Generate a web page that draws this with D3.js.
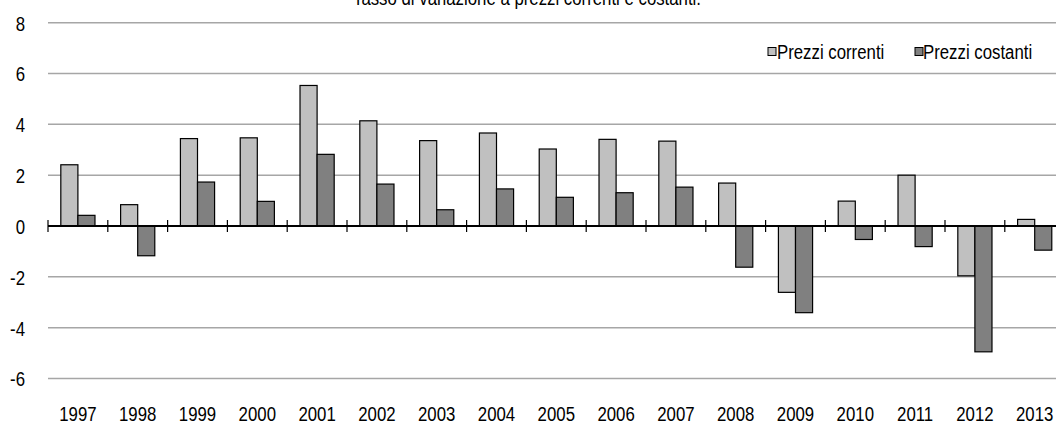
<!DOCTYPE html>
<html><head><meta charset="utf-8">
<script src="https://cdn.jsdelivr.net/npm/d3@7"></script>
<style>
html,body{margin:0;padding:0;background:#fff;}
svg{display:block;}
text{font-family:"Liberation Sans",Arial,sans-serif;fill:#000;}
</style></head>
<body><svg id="c" width="1056" height="424"></svg>
<script>
const years = ["1997","1998","1999","2000","2001","2002","2003","2004","2005","2006","2007","2008","2009","2010","2011","2012","2013"];
const currentPrices = [2.41,0.84,3.44,3.47,5.53,4.14,3.36,3.66,3.03,3.41,3.34,1.69,-2.61,0.98,2.0,-1.96,0.26];
const constantPrices = [0.42,-1.17,1.73,0.97,2.82,1.65,0.64,1.46,1.13,1.31,1.53,-1.62,-3.41,-0.53,-0.81,-4.95,-0.95];
const seriesNames = ["Prezzi correnti","Prezzi costanti"];
const yTicks = [8,6,4,2,0,-2,-4,-6];
const titleText = "Tasso di variazione a prezzi correnti e costanti.";

const SX = 0.8; // narrow font emulation
const FS = 21;
const svg = d3.select("#c");
const colors = ["#c0c0c0","#808080"];
const y = d3.scaleLinear().domain([-6,8]).range([378.5,22.7]);
const x0 = d3.scaleBand().domain(years).range([48,1064.6]).padding(0);
const bw = x0.bandwidth();
const barW = bw/3.5;
const x1 = d3.scaleBand().domain([0,1]).range([bw*0.75/3.5, bw*0.75/3.5 + 2*barW]).padding(0);

function narrowText(g, x, yy, anchor, txt){
  return g.append("text").attr("transform",`translate(${x},${yy}) scale(${SX},1)`)
    .attr("text-anchor",anchor).attr("font-size",FS).text(txt);
}

// title
narrowText(svg, 527, 5, "middle", titleText);

// gridlines
svg.append("g").selectAll("line").data(yTicks.filter(d=>d!==0)).join("line")
  .attr("x1",48).attr("x2",1056).attr("y1",d=>y(d)).attr("y2",d=>y(d))
  .attr("stroke","#a6a6a6").attr("stroke-width",1.5);

// y labels
const yAxis = d3.axisLeft(y).tickValues(yTicks).tickSize(0).tickPadding(0).tickFormat(d=>String(d));
const ga = svg.append("g").attr("transform","translate(25,0)").call(yAxis);
ga.select(".domain").remove();
ga.selectAll("text").attr("font-size",FS).attr("font-family",null).attr("fill","#000")
  .attr("x",0).attr("dy","0.35em").attr("transform",`scale(${SX},1)`);

// bars
const data = years.map((yr,i)=>({yr, vals:[currentPrices[i], constantPrices[i]]}));
const groups = svg.append("g").selectAll("g").data(data).join("g")
  .attr("transform",d=>`translate(${x0(d.yr)},0)`);
groups.selectAll("rect").data(d=>d.vals.map((v,k)=>({v,k}))).join("rect")
  .attr("x",d=>x1(d.k)).attr("width",x1.bandwidth())
  .attr("y",d=>y(Math.max(0,d.v))).attr("height",d=>Math.abs(y(d.v)-y(0)))
  .attr("fill",d=>colors[d.k]).attr("stroke","#000").attr("stroke-width",1.2);

// zero axis with crossing ticks
svg.append("line").attr("x1",48).attr("x2",1056).attr("y1",y(0)).attr("y2",y(0))
  .attr("stroke","#000").attr("stroke-width",1.8);
const bounds = years.map(d=>x0(d)).concat([x0(years[years.length-1])+bw]);
svg.append("g").selectAll("line").data(bounds).join("line")
  .attr("x1",d=>d).attr("x2",d=>d).attr("y1",y(0)-6).attr("y2",y(0)+6)
  .attr("stroke","#000").attr("stroke-width",1.2);

// x labels
const xAxis = d3.axisBottom(x0).tickSize(0).tickPadding(0);
const gx = svg.append("g").attr("transform","translate(0,421)").call(xAxis);
gx.select(".domain").remove();
gx.selectAll("text").attr("font-size",FS).attr("font-family",null).attr("fill","#000")
  .attr("y",0).attr("dy",0).attr("transform",`scale(${SX},1)`);

// legend
const leg = svg.append("g");
const legItems = [{x:768,tx:777},{x:915,tx:923}];
seriesNames.forEach((n,i)=>{
  leg.append("rect").attr("x",legItems[i].x).attr("y",47.5).attr("width",8).attr("height",8)
    .attr("fill",colors[i]).attr("stroke","#000").attr("stroke-width",1);
  narrowText(leg, legItems[i].tx, 59, "start", n);
});
</script></body></html>
